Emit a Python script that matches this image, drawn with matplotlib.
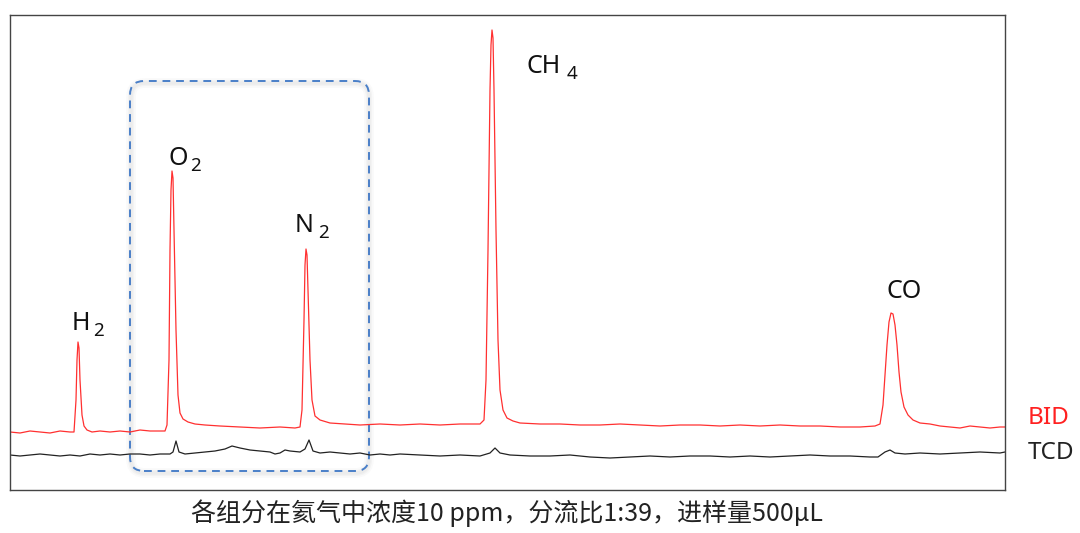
import matplotlib.pyplot as plt
from matplotlib.patches import FancyBboxPatch

plt.rcParams['font.family'] = ['Noto Sans CJK SC', 'DejaVu Sans']

# BID trace: position along run, signal height
bid_x = [10, 20, 30, 40, 50, 60, 70, 74, 76, 77, 78, 79, 80, 82, 84, 87, 92, 100, 110, 120, 130, 140, 150, 160,
         165, 167, 169, 170, 171, 172, 173, 174, 176, 178, 180, 183, 188, 195, 205, 220, 240, 260, 280, 295, 300,
         302, 304, 305, 306, 307, 308, 310, 312, 315, 320, 330, 345, 360, 380, 400, 420, 440, 460, 480, 484, 486,
         488, 490, 491, 492, 493, 494, 496, 498, 500, 503, 507, 513, 520, 540, 560, 580, 600, 620, 640, 660, 680,
         700, 720, 740, 760, 780, 800, 820, 840, 860, 875, 880, 883, 885, 887, 889, 891, 893, 895, 897, 899, 901,
         904, 908, 913, 920, 930, 940, 950, 960, 970, 980, 990, 1000, 1005]
bid_px = [432, 433, 431, 432, 433, 431, 432, 432, 400, 360, 342, 348, 380, 415, 426, 430, 432, 431, 432, 431, 432, 430,
          431, 431, 431, 425, 360, 250, 190, 171, 178, 230, 330, 395, 413, 419, 422, 424, 425, 426, 427, 428, 427, 428,
          427, 410, 320, 265, 249, 255, 290, 360, 400, 416, 420, 423, 424, 425, 424, 425, 424, 425, 424, 424, 420, 380,
          250, 90, 45, 30, 38, 90, 230, 340, 390, 410, 418, 421, 423, 424, 424, 425, 425, 424, 425, 426, 425, 425, 426,
          425, 426, 425, 426, 426, 427, 427, 426, 424, 405, 375, 345, 322, 313, 314, 325, 345, 372, 392, 407, 415, 420,
          423, 424, 426, 427, 428, 426, 427, 428, 427, 427]

# TCD trace
tcd_x = [10, 20, 30, 40, 50, 60, 70, 80, 90, 100, 110, 120, 130, 140, 150, 160, 170, 173, 176, 179, 185, 195, 205, 215,
         225, 232, 240, 250, 260, 270, 275, 280, 285, 290, 300, 305, 309, 313, 320, 330, 340, 350, 360, 370, 380, 390,
         400, 420, 440, 460, 480, 490, 495, 500, 510, 530, 550, 570, 590, 610, 630, 650, 670, 690, 710, 730, 750, 770,
         790, 810, 830, 850, 870, 878, 885, 890, 895, 905, 920, 940, 960, 980, 1000, 1005]
tcd_px = [455, 456, 455, 454, 455, 456, 455, 456, 454, 455, 454, 455, 454, 454, 455, 454, 454, 452, 441, 452, 454, 453,
          452, 451, 449, 446, 448, 450, 451, 452, 454, 453, 450, 451, 452, 449, 440, 451, 453, 452, 453, 454, 453, 455,
          454, 455, 454, 455, 456, 455, 456, 453, 448, 453, 455, 456, 456, 455, 457, 458, 457, 456, 457, 456, 456, 457,
          456, 457, 456, 455, 456, 456, 457, 457, 452, 450, 453, 454, 453, 454, 453, 452, 453, 452]

bid_y = [490 - v for v in bid_px]
tcd_y = [490 - v for v in tcd_px]

# peak labels: (main text, subscript, x, baseline y, subscript x)
labels = [('H', '2', 72, 160, 93), ('O', '2', 169, 325, 190), ('N', '2', 295, 258, 318),
          ('CH', '4', 526, 417, 567), ('CO', '', 886, 192, 0)]

fig = plt.figure(figsize=(10.8, 5.33), dpi=100)
ax = fig.add_axes([10 / 1080, 43 / 533, 995 / 1080, 475 / 533])
ax.set_xlim(10, 1005)
ax.set_ylim(0, 475)
ax.set_xticks([])
ax.set_yticks([])
for s in ax.spines.values():
    s.set_color('#444444')
    s.set_linewidth(1.0)

ax.plot(tcd_x, tcd_y, color='#222222', lw=0.9)
ax.plot(bid_x, bid_y, color='#ff3030', lw=0.9)

# dashed highlight box with a soft shadow
for lw, a in [(7, 0.04), (4.5, 0.05), (2.5, 0.06)]:
    ax.add_patch(FancyBboxPatch((131, 17), 238, 390, boxstyle='round,pad=0,rounding_size=14',
                                fill=False, ec='#808080', lw=lw, alpha=a))
ax.add_patch(FancyBboxPatch((130, 19), 239, 390, boxstyle='round,pad=0,rounding_size=14',
                            fill=False, ec='#4a7fc8', lw=1.4, ls=(0, (4, 3))))

for main, sub, x, y, sx in labels:
    ax.text(x, y, main, fontsize=18, family=['Noto Sans', 'DejaVu Sans'], color='#111111',
            ha='left', va='baseline')
    if sub:
        ax.text(sx, y - 6, sub, fontsize=13.5, family=['Noto Sans', 'DejaVu Sans'], color='#111111',
                ha='left', va='baseline')

fig.text(1028 / 1080, 1 - 418 / 533, 'BID', color='#ff2020', fontsize=17.5,
         family=['Noto Sans', 'DejaVu Sans'], ha='left', va='center')
fig.text(1028 / 1080, 1 - 453 / 533, 'TCD', color='#222222', fontsize=17.5,
         family=['Noto Sans', 'DejaVu Sans'], ha='left', va='center')

fig.text(507 / 1080, 1 - 513 / 533, '各组分在氦气中浓度10 ppm，分流比1:39，进样量500μL',
         fontsize=18, color='#222222', ha='center', va='center')

fig.savefig('out.png', dpi=100, facecolor='white')
